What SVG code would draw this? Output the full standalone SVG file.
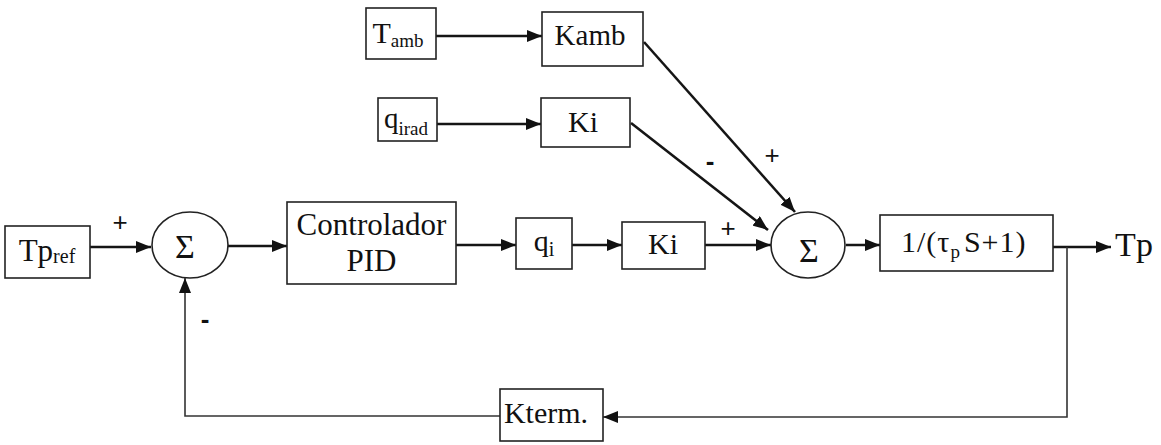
<svg xmlns="http://www.w3.org/2000/svg" width="1161" height="445" viewBox="0 0 1161 445">
<style>
.box{fill:#fff;stroke:#222;stroke-width:1.6}
.sum{fill:#fff;stroke:#222;stroke-width:1.6}
.t{font-family:"Liberation Serif","Times New Roman",serif;fill:#111;text-anchor:middle}
.ts{font-family:"Liberation Serif","Times New Roman",serif;fill:#111;text-anchor:start}
.s{font-family:"Liberation Sans",sans-serif;fill:#111;text-anchor:middle}
.w{fill:none;stroke:#151515;stroke-width:2.6}
.f{fill:none;stroke:#333;stroke-width:1.6}
</style>
<defs>
<marker id="ah" markerUnits="userSpaceOnUse" markerWidth="16" markerHeight="12" refX="15" refY="6" orient="auto">
<path d="M0,0 L15,6 L0,12 z" fill="#111"/>
</marker>
</defs>
<rect width="1161" height="445" fill="#fff"/>
<g id="connectors">
<line class="w" x1="90" y1="247" x2="151" y2="247" marker-end="url(#ah)"/>
<line class="w" x1="228" y1="246" x2="287" y2="246" marker-end="url(#ah)"/>
<line class="w" x1="456" y1="245" x2="516" y2="245" marker-end="url(#ah)"/>
<line class="w" x1="572" y1="245" x2="622" y2="245" marker-end="url(#ah)"/>
<line class="w" x1="705" y1="245" x2="771" y2="245" marker-end="url(#ah)"/>
<line class="w" x1="846" y1="245" x2="880" y2="245" marker-end="url(#ah)"/>
<line class="w" x1="1053" y1="247" x2="1111" y2="247" marker-end="url(#ah)"/>
<polyline class="f" points="1067,247 1067,417 603,417" marker-end="url(#ah)"/>
<polyline class="f" points="500,416 185,416 185,278" marker-end="url(#ah)"/>
<line class="w" x1="436" y1="36" x2="542" y2="36" marker-end="url(#ah)"/>
<line class="w" x1="437" y1="124" x2="541" y2="124" marker-end="url(#ah)"/>
<line class="w" x1="644" y1="42" x2="795" y2="212" marker-end="url(#ah)"/>
<line class="w" x1="631" y1="123" x2="768" y2="230" marker-end="url(#ah)"/>
<text class="s" x="120" y="231" font-size="26">+</text>
<text class="s" x="205" y="328" font-size="26" font-weight="bold">-</text>
<text class="s" x="728" y="237" font-size="26">+</text>
<text class="s" x="710" y="170" font-size="26" font-weight="bold">-</text>
<text class="s" x="772" y="164" font-size="26">+</text>
</g>
<g id="tpref">
<rect class="box" x="5" y="226" width="85" height="52"/>
<text class="t" x="47" y="261" font-size="31">Tp<tspan font-size="20" dy="2">ref</tspan></text>
</g>
<g id="sum1">
<ellipse class="sum" cx="190" cy="245" rx="38" ry="33"/>
<text class="t" x="185" y="258" font-size="34">Σ</text>
</g>
<g id="pid">
<rect class="box" x="287" y="202" width="169" height="82"/>
<text class="t" x="371.5" y="235" font-size="31">Controlador</text>
<text class="t" x="371.5" y="271" font-size="31">PID</text>
</g>
<g id="qi">
<rect class="box" x="516" y="218" width="56" height="51"/>
<text class="t" x="544" y="251" font-size="30">q<tspan font-size="20" dy="5">i</tspan></text>
</g>
<g id="ki">
<rect class="box" x="622" y="222" width="83" height="47"/>
<text class="t" x="663" y="254" font-size="30">Ki</text>
</g>
<g id="sum2">
<ellipse class="sum" cx="808" cy="245" rx="37" ry="33"/>
<text class="t" x="809" y="262" font-size="34">Σ</text>
</g>
<g id="plant">
<rect class="box" x="880" y="215" width="173" height="56"/>
<text class="ts" x="901" y="252" font-size="30" letter-spacing="1">1/(τ<tspan font-size="19" dy="6">p</tspan><tspan dx="3" dy="-6">S+1)</tspan></text>
</g>
<g id="tp">
<text class="t" x="1134" y="256" font-size="34">Tp</text>
</g>
<g id="kterm">
<rect class="box" x="500" y="389" width="103" height="52"/>
<text class="t" x="546" y="423" font-size="30">Kterm.</text>
</g>
<g id="tamb">
<rect class="box" x="366" y="8" width="70" height="51"/>
<text class="t" x="398" y="43" font-size="30">T<tspan font-size="19" dy="4">amb</tspan></text>
</g>
<g id="kamb">
<rect class="box" x="542" y="12" width="101" height="54"/>
<text class="t" x="590" y="45" font-size="29">Kamb</text>
</g>
<g id="qirad">
<rect class="box" x="378" y="98" width="59" height="43"/>
<text class="t" x="406" y="128" font-size="29">q<tspan font-size="19" dy="7">irad</tspan></text>
</g>
<g id="ki2">
<rect class="box" x="541" y="98" width="89" height="49"/>
<text class="t" x="583" y="132" font-size="30">Ki</text>
</g>
</svg>
